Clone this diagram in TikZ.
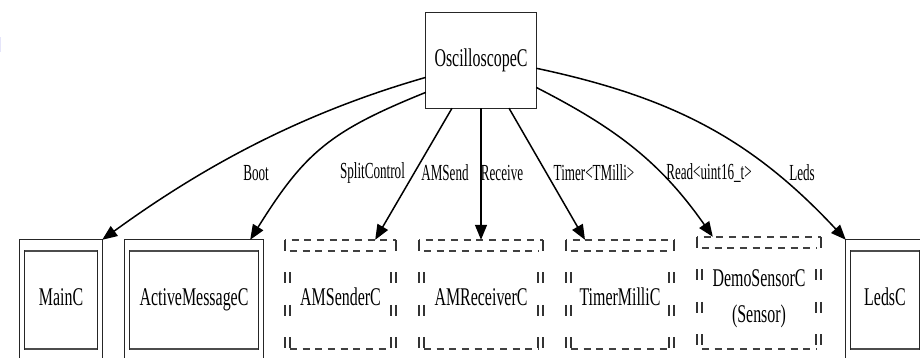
\documentclass[tikz,border=0pt]{standalone}
\usepackage{fontspec}
\setmainfont{Liberation Serif}
\newfontfamily\boxfont[FakeStretch=0.625]{Liberation Serif}
\newfontfamily\edgefont[FakeStretch=0.57]{Liberation Serif}
\usetikzlibrary{arrows.meta,calc}

\tikzset{
  box/.style={inner sep=0pt, font=\boxfont\fontsize{25.5}{35}\selectfont,
              text height=17pt, text depth=5pt},
  lbl/.style={inner sep=0pt, font=\edgefont\fontsize{23}{26}\selectfont},
  edge/.style={line width=1.5pt, -{Triangle[length=15pt,width=12pt]}},
  boxline/.style={line width=1.3pt, black!85},
  innerrule/.style={line width=2.4pt, black!70},
  hdash/.style={line width=2pt, black!75, dash pattern=on 7pt off 5.7pt},
  vdash/.style={line width=1.5pt, black!80, dash pattern=on 11pt off 21.5pt},
}

% double solid frame around a node
\newcommand\solidpair[1]{%
  \draw[boxline] (#1.north west) rectangle (#1.south east);
  \draw[boxline] ([shift={(5,-11)}]#1.north west) rectangle ([shift={(-5,11)}]#1.south east);
  \draw[innerrule] ([shift={(5,-11)}]#1.north west) -- ([shift={(-5,-11)}]#1.north east);
  \draw[innerrule] ([shift={(5,11)}]#1.south west) -- ([shift={(-5,11)}]#1.south east);
}

% double dashed frame around a node
\newcommand\dashpair[1]{%
  \draw[hdash, dash phase=6pt] (#1.north west) -- (#1.north east);
  \draw[hdash, dash phase=6pt] (#1.south west) -- (#1.south east);
  \draw[vdash] (#1.north west) -- (#1.south west);
  \draw[vdash] (#1.north east) -- (#1.south east);
  \coordinate (#1-a) at ([shift={(5,-11)}]#1.north west);
  \coordinate (#1-b) at ([shift={(-5,-11)}]#1.north east);
  \coordinate (#1-c) at ([shift={(-5,11)}]#1.south east);
  \coordinate (#1-d) at ([shift={(5,11)}]#1.south west);
  \draw[hdash] (#1-a) -- (#1-b);
  \draw[hdash] (#1-d) -- (#1-c);
  \draw[vdash, dash phase=11pt] (#1-a) -- (#1-d);
  \draw[vdash, dash phase=11pt] (#1-b) -- (#1-c);
}

\begin{document}
\begin{tikzpicture}[x=1pt,y=1pt]
\useasboundingbox (0,0) rectangle (920,358);
\clip (0,0) rectangle (920,358);
\fill[white] (0,0) rectangle (920,358);
\fill[black!20!blue!10] (0,306) rectangle (1.3,321);

% components
\node[box, minimum width=110pt, minimum height=95pt] (osc) at (481,297.5) {OscilloscopeC};
\node[box, minimum width=82pt,  minimum height=120pt] (mainc)    at (61,58)    {MainC};
\node[box, minimum width=138pt, minimum height=120pt] (amc)      at (194,58)   {ActiveMessageC};
\node[box, minimum width=111pt, minimum height=120pt] (sender)   at (340.5,58) {AMSenderC};
\node[box, minimum width=124pt, minimum height=120pt] (receiver) at (481,58)   {AMReceiverC};
\node[box, minimum width=108pt, minimum height=120pt] (timer)    at (620,58)   {TimerMilliC};
\node[inner sep=0pt, font=\boxfont\fontsize{25.5}{36}\selectfont, align=center,
      minimum width=124pt, minimum height=123pt] (sensor) at (759,59.5) {DemoSensorC\\(Sensor)};
\node[box, minimum width=78pt,  minimum height=120pt] (leds)     at (885,58)   {LedsC};

\draw[boxline] (osc.north west) rectangle (osc.south east);
\solidpair{mainc}
\solidpair{amc}
\dashpair{sender}
\dashpair{receiver}
\dashpair{timer}
\dashpair{sensor}
\solidpair{leds}

% wiring
\draw[edge] (osc.197) to[out=196,in=36,looseness=0.9] (mainc.north east);
\draw[edge] (osc.210) to[out=202,in=58,looseness=1.15] ([xshift=-13pt]amc.north east);
\draw[edge] ([xshift=-29pt]osc.south) -- ([xshift=-21pt]sender.north east);
\draw[edge] (osc.south) -- (receiver.north);
\draw[edge] ([xshift=28pt]osc.south) -- ([xshift=-35pt]timer.north);
\draw[edge] (osc.334) to[out=-27,in=125] ([xshift=16pt]sensor.north west);
\draw[edge] (osc.352) to[out=-12,in=133] (leds.north west);

% interface labels
\node[lbl] (l-boot)  at (256,185)   {Boot};
\node[lbl] (l-split) at (372.5,185) {SplitControl};
\node[lbl] (l-send)  at (445,185)   {AMSend};
\node[lbl] (l-recv)  at (502,185)   {Receive};
\node[lbl] (l-timer) at (594,185)   {Timer<TMilli>};
\node[lbl] (l-read)  at (709,185)   {Read<uint16\_t>};
\node[lbl] (l-leds)  at (802,185)   {Leds};
\end{tikzpicture}
\end{document}
